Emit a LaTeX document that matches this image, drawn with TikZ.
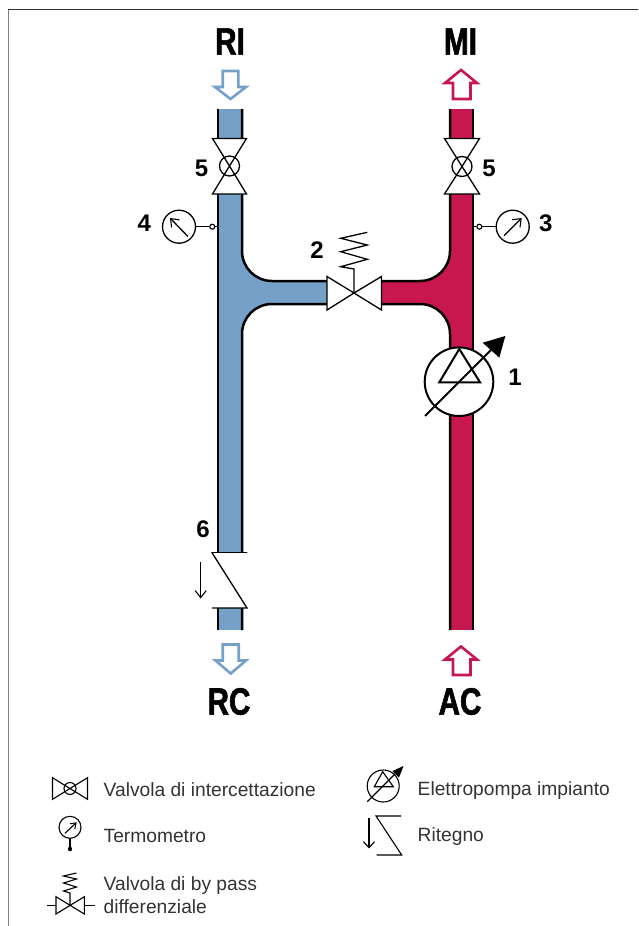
\documentclass[tikz,border=0pt]{standalone}
\usepackage{fontspec}
\setmainfont{Liberation Sans}
\newfontfamily\heavy[FakeStretch=0.78,FakeBold=1.6]{Liberation Sans}
\usetikzlibrary{arrows.meta}
\definecolor{pipeblue}{HTML}{75A0C8}
\definecolor{pipered}{HTML}{C8174F}
\definecolor{legendtext}{HTML}{333333}
\tikzset{
 pipeline/.style={line width=2.5pt,black},
 symline/.style={line width=1.3pt,black},
 thinsym/.style={line width=1.1pt,black},
 valvetri/.style={symline,fill=white,line join=miter},
 openhead/.style={-{Straight Barb[length=7pt,width=11pt,line width=1.1pt]}},
 flowarrow/.style={line width=2.6pt,fill=white,line join=miter},
 bigtag/.style={font=\heavy\bfseries\fontsize{38}{38}\selectfont,inner sep=0pt,anchor=center},
 numtag/.style={font=\bfseries\fontsize{24}{24}\selectfont,inner sep=0pt,anchor=center},
 legtext/.style={font=\fontsize{19.2}{23}\selectfont,text=legendtext,inner sep=0pt,anchor=west,align=left},
 gauge/.style={circle,draw,line width=1.3pt,minimum size=33pt,inner sep=0pt},
 tap/.style={circle,draw,line width=1.1pt,fill=white,minimum size=5pt,inner sep=0pt},
}
\begin{document}
\begin{tikzpicture}[x=1pt,y=-1pt]
\useasboundingbox (0,0) rectangle (638,926);
% frame
\draw[line width=1pt,black!50] (8,926) -- (8,10);
\draw[line width=.9pt,black!80] (8,9.7) -- (638,9.7);
% pipes: fills
\fill[pipeblue] (218,109) rectangle (242,630);
\fill[pipeblue] (242,251) .. controls (242,267.6) and (255.4,281) .. (272,281) -- (327,281) -- (327,304) -- (272,304) .. controls (255.4,304) and (242,317.4) .. (242,334) -- cycle;
\fill[pipered] (450,109) rectangle (473,630);
\fill[pipered] (450,251) .. controls (450,267.6) and (436.6,281) .. (420,281) -- (382,281) -- (382,304) -- (420,304) .. controls (436.6,304) and (450,317.4) .. (450,334) -- cycle;
% pipes: walls
\draw[pipeline] (218,109) -- (218,630);
\draw[pipeline] (242,109) -- (242,251) .. controls (242,267.6) and (255.4,281) .. (272,281) -- (327,281);
\draw[pipeline] (327,304) -- (272,304) .. controls (255.4,304) and (242,317.4) .. (242,334) -- (242,630);
\draw[pipeline] (473,109) -- (473,630);
\draw[pipeline] (450,109) -- (450,251) .. controls (450,267.6) and (436.6,281) .. (420,281) -- (382,281);
\draw[pipeline] (382,304) -- (420,304) .. controls (436.6,304) and (450,317.4) .. (450,334) -- (450,630);
% shut-off valves
\fill[white] (212,138) rectangle (247,194);
\draw[symline,fill=white] (229.5,166) circle[radius=10];
\draw[valvetri,fill=none] (212.5,138.5) -- (246.5,138.5) -- (229.5,166) -- (212.5,194) -- (246.5,194) -- (229.5,166) -- cycle;
\fill[white] (444,138) rectangle (480,194);
\draw[symline,fill=white] (462,166.5) circle[radius=10];
\draw[valvetri,fill=none] (444.5,138.5) -- (479.5,138.5) -- (462,166.5) -- (444.5,194) -- (479.5,194) -- (462,166.5) -- cycle;
% bypass valve
\draw[valvetri] (327,276.5) -- (354,293) -- (327,310) -- cycle;
\draw[valvetri] (381.5,276.5) -- (354,293) -- (381.5,310) -- cycle;
\draw[symline,line join=miter] (354,293) -- (354,269) -- (340.7,266.7) -- (367.3,259.3) -- (340.7,251.7) -- (367.3,245) -- (340.7,238.3) -- (367.3,232.3);
% gauges
\node[gauge] (g4) at (179,226.7) {};
\node[tap] (t4) at (212.3,226.7) {};
\coordinate (w4) at (217,226.7);
\draw[symline] (g4) -- (t4) (t4) -- (w4);
\draw[symline,openhead] (188,236.5) -- (170,218);
\node[gauge] (g3) at (512.7,226.7) {};
\node[tap] (t3) at (479.3,226.7) {};
\coordinate (w3) at (474,226.7);
\draw[symline] (g3) -- (t3) (t3) -- (w3);
\draw[symline,openhead] (504,235.7) -- (521.7,218);
% pump
\draw[line width=2pt,fill=white] (459,381.7) circle[radius=34.3];
\draw[line width=2pt,line join=miter] (459.3,349) -- (480,382.3) -- (439.3,382.3) -- cycle;
\draw[line width=2pt] (425,416) -- (495,346);
\fill (505.3,336) -- (482.7,342.7) -- (499.3,357.7) -- cycle;
% check valve
\fill[white] (212,553) rectangle (248,608);
\draw[symline,line cap=round] (212,552.7) -- (246.7,552.7);
\draw[symline,line cap=round] (212,552.7) -- (247,608) -- (212.5,608);
\draw[symline,openhead] (200.7,561.7) -- (200.7,598.5);
% flow arrows
\draw[flowarrow,draw=pipeblue] (222.7,71) -- (238.3,71) -- (238.3,87) -- (246,87) -- (230.5,99) -- (215,87) -- (222.7,87) -- cycle;
\draw[flowarrow,draw=pipeblue] (222.7,644.5) -- (238.7,644.5) -- (238.7,660.5) -- (246,660.5) -- (230.7,673.5) -- (215.5,660.5) -- (222.7,660.5) -- cycle;
\draw[flowarrow,draw=pipered] (453,99) -- (470.5,99) -- (470.5,83) -- (477,83) -- (461,70) -- (445,83) -- (453,83) -- cycle;
\draw[flowarrow,draw=pipered] (453,675) -- (470.5,675) -- (470.5,659.5) -- (477,659.5) -- (461,646.5) -- (445,659.5) -- (453,659.5) -- cycle;
% big labels
\node[bigtag] (ri) at (230,41.5) {RI};
\node[bigtag] (mi) at (460.5,41.5) {MI};
\node[bigtag] (rc) at (229,701.5) {RC};
\node[bigtag] (ac) at (460,701.5) {AC};
% numbers
\node[numtag] (n5a) at (201.5,168) {5};
\node[numtag] (n5b) at (489,168) {5};
\node[numtag] (n4) at (144.3,223.5) {4};
\node[numtag] (n3) at (545.7,223.5) {3};
\node[numtag] (n2) at (317,250) {2};
\node[numtag] (n1) at (515,377) {1};
\node[numtag] (n6) at (203,529) {6};
% legend symbols
\draw[thinsym,line join=miter] (52.5,777.7) -- (87.5,799.3) -- (87.5,777.7) -- (52.5,799.3) -- cycle;
\draw[thinsym] (70,788.5) circle[radius=6];
\node[gauge,line width=1.1pt,minimum size=22pt] (lg) at (70,827.3) {};
\node[circle,fill,minimum size=4.4pt,inner sep=0pt] (ld) at (70,849) {};
\draw[thinsym] (lg) -- (ld);
\draw[thinsym,-{Straight Barb[length=5pt,width=7pt,line width=1pt]}] (65,833.3) -- (76.7,822.3);
\draw[thinsym,line join=miter] (56,896.7) -- (84.3,914) -- (84.3,896.7) -- (56,914) -- cycle;
\draw[thinsym] (46.7,905.5) -- (56,905.5) (84.3,905.5) -- (95,905.5);
\draw[thinsym,line join=miter] (70,905.5) -- (70,893) -- (63.5,891) -- (76.5,887) -- (63.5,883) -- (76.5,879) -- (63.5,876) -- (76.5,873);
\draw[thinsym] (383.2,786) circle[radius=16];
\draw[thinsym,line join=miter] (382.7,771.7) -- (393.3,786.7) -- (374.3,786.7) -- cycle;
\draw[thinsym] (367.3,801.7) -- (396,773);
\fill (403.5,766) -- (392.5,771) -- (399,777.5) -- cycle;
\draw[thinsym,-{Straight Barb[length=6pt,width=11pt,line width=1.1pt]}] (369,818.3) -- (369,848.5);
\draw[thinsym,line join=miter] (401,816) -- (376,816) -- (401.7,855) -- (376.7,855);
% legend text
\node[legtext] (l1) at (103.5,789.5) {Valvola di intercettazione};
\node[legtext] (l2) at (103.5,836) {Termometro};
\node[legtext] (l3) at (103.5,895) {Valvola di by pass\\differenziale};
\node[legtext] (l4) at (417.5,790.5) {Elettropompa impianto};
\node[legtext] (l5) at (417.5,837) {Ritegno};
\end{tikzpicture}
\end{document}
